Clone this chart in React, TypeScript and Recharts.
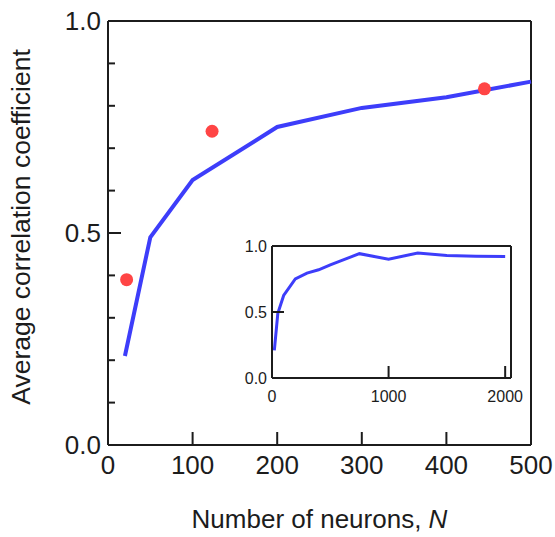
import { ComposedChart, LineChart, Line, Scatter, XAxis, YAxis, ReferenceLine } from 'recharts';

const FONT = '"Liberation Sans", Arial, Helvetica, sans-serif';
const INK = '#1c1c1c';
const BLUE = '#3d3dfa';
const RED = '#ff4545';

// main panel: correlation vs number of neurons
const mainN = [20, 50, 100, 200, 300, 400, 500];
const mainR = [0.21, 0.49, 0.625, 0.75, 0.795, 0.82, 0.857];

// red markers
const dotN = [22, 123, 445];
const dotR = [0.39, 0.74, 0.84];

// inset: same curve out to 2000 neurons
const insetN = [20, 50, 100, 200, 300, 400, 500, 750, 1000, 1250, 1500, 1750, 2000];
const insetR = [0.21, 0.49, 0.625, 0.75, 0.795, 0.82, 0.857, 0.942, 0.9, 0.947, 0.928, 0.922, 0.92];

const xTicks = [0, 100, 200, 300, 400, 500];
const yTicks = [0, 0.1, 0.2, 0.3, 0.4, 0.5, 0.6, 0.7, 0.8, 0.9, 1.0];
const insetXTicks = [0, 1000, 2000];
const insetYTicks = [0, 0.5, 1.0];

const mainData = mainN.map((n, i) => ({ n, r: mainR[i] }));
const dotData = dotN.map((n, i) => ({ n, r: dotR[i] }));
const insetData = insetN.map((n, i) => ({ n, r: insetR[i] }));

const isMajor = (v: number) => Math.abs(v * 2 - Math.round(v * 2)) < 1e-6;

const bottomTick = (len: number, max: number, fontSize: number, dy: number) => (p: any) => {
    const v = p.payload.value;
    return (
        <g>
            {v > 0 && v < max && <line x1={p.x} y1={p.y} x2={p.x} y2={p.y - len} stroke={INK} strokeWidth={2} />}
            <text x={p.x} y={p.y + dy} textAnchor="middle" fontSize={fontSize} fill={INK} fontFamily={FONT}>{v}</text>
        </g>
    );
};

const leftTick = (major: number, minor: number, fontSize: number, gap: number, inner: boolean) => (p: any) => {
    const v = p.payload.value;
    const lab = isMajor(v);
    const edge = v <= 0 || v >= 1;
    return (
        <g>
            {!edge && (inner ? v === 0.5 : true) && (
                <line x1={p.x} y1={p.y} x2={p.x + (lab ? major : minor)} y2={p.y} stroke={INK} strokeWidth={2} />
            )}
            {lab && (
                <text x={p.x - gap} y={p.y} dy="0.35em" textAnchor="end" fontSize={fontSize} fill={INK} fontFamily={FONT}>{v.toFixed(1)}</text>
            )}
        </g>
    );
};

const dot = (p: any) => <circle cx={p.cx} cy={p.cy} r={6.5} fill={RED} />;

function Inset() {
    return (
        <div style={{ position: 'absolute', left: 230, top: 230 }}>
            <LineChart width={300} height={180} margin={{ top: 16, right: 19, left: 0, bottom: 0 }}>
                <XAxis xAxisId="b" type="number" dataKey="n" domain={[0, 2050]} ticks={insetXTicks} interval={0} height={32}
                    axisLine={{ stroke: INK, strokeWidth: 2 }} tickLine={false} tickSize={0} tickMargin={0}
                    tick={bottomTick(12, 2050, 16, 24)} />
                <YAxis yAxisId="l" type="number" dataKey="r" domain={[0, 1]} ticks={insetYTicks} interval={0} width={42}
                    axisLine={{ stroke: INK, strokeWidth: 2 }} tickLine={false} tickSize={0} tickMargin={0}
                    tick={leftTick(12, 6, 16, 5, true)} />
                <ReferenceLine xAxisId="b" yAxisId="l" y={1} stroke={INK} strokeWidth={2} />
                <ReferenceLine xAxisId="b" yAxisId="l" x={2050} stroke={INK} strokeWidth={2} />
                <Line xAxisId="b" yAxisId="l" data={insetData} dataKey="r" type="linear" stroke={BLUE} strokeWidth={3}
                    dot={false} isAnimationActive={false} />
            </LineChart>
        </div>
    );
}

export default function App() {
    return (
        <div style={{ position: 'absolute', left: 0, top: 0, width: 555, height: 537, background: '#fff' }}>
            <ComposedChart width={555} height={537} margin={{ top: 21, right: 24, left: 0, bottom: 0 }}>
                <XAxis xAxisId="b" type="number" dataKey="n" domain={[0, 500]} ticks={xTicks} interval={0} height={92}
                    axisLine={{ stroke: INK, strokeWidth: 2 }} tickLine={false} tickSize={0} tickMargin={0}
                    tick={bottomTick(13, 500, 26, 29)}
                    label={{
                        content: (p: any) => (
                            <text x={p.viewBox.x + p.viewBox.width / 2} y={p.viewBox.y + 83} textAnchor="middle"
                                fontSize={26} fill={INK} fontFamily={FONT}>
                                Number of neurons, <tspan fontStyle="italic">N</tspan>
                            </text>
                        ),
                    }} />
                <YAxis yAxisId="l" type="number" dataKey="r" domain={[0, 1]} ticks={yTicks} interval={0} width={108}
                    axisLine={{ stroke: INK, strokeWidth: 2 }} tickLine={false} tickSize={0} tickMargin={0}
                    tick={leftTick(13, 7, 26, 7, false)}
                    label={{
                        content: (p: any) => {
                            const cy = p.viewBox.y + p.viewBox.height / 2 - 6;
                            return (
                                <text x={21} y={cy} transform={`rotate(-90 21 ${cy})`} textAnchor="middle" dy="0.35em"
                                    fontSize={26.5} fill={INK} fontFamily={FONT}>
                                    Average correlation coefficient
                                </text>
                            );
                        },
                    }} />
                <ReferenceLine xAxisId="b" yAxisId="l" y={1} stroke={INK} strokeWidth={2} />
                <ReferenceLine xAxisId="b" yAxisId="l" x={500} stroke={INK} strokeWidth={2} />
                <Line xAxisId="b" yAxisId="l" data={mainData} dataKey="r" type="linear" stroke={BLUE} strokeWidth={4}
                    dot={false} isAnimationActive={false} />
                <Scatter xAxisId="b" yAxisId="l" data={dotData} dataKey="r" fill={RED} shape={dot} isAnimationActive={false} />
            </ComposedChart>
            <Inset />
        </div>
    );
}
